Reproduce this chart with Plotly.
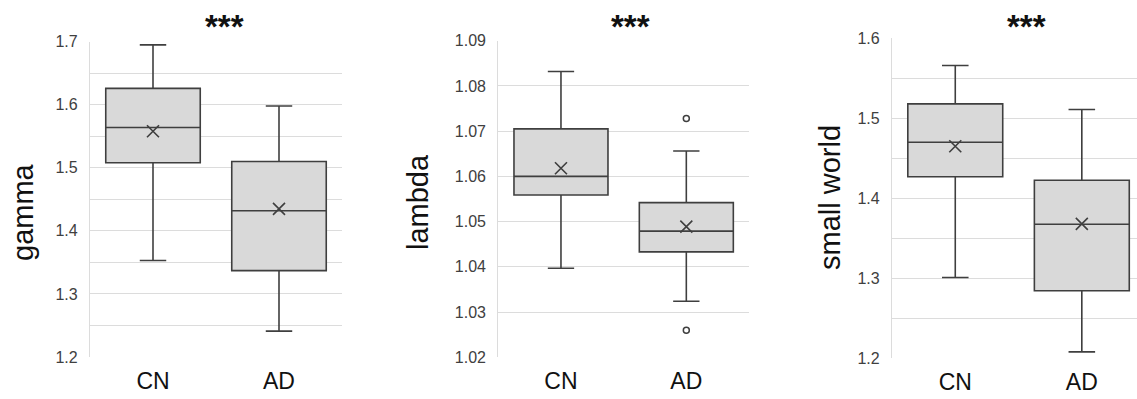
import plotly.graph_objects as go

W, H = 1137, 399

groups = ["CN", "AD"]
positions = [0, 1]

gamma_q1 = [1.508, 1.337]
gamma_median = [1.564, 1.432]
gamma_q3 = [1.626, 1.510]
gamma_lower = [1.353, 1.241]
gamma_upper = [1.695, 1.598]
gamma_mean = [1.558, 1.435]
gamma_outliers = [[], []]

lambda_q1 = [1.0559, 1.0433]
lambda_median = [1.0600, 1.0479]
lambda_q3 = [1.0705, 1.0542]
lambda_lower = [1.0397, 1.0324]
lambda_upper = [1.0832, 1.0656]
lambda_mean = [1.0618, 1.0489]
lambda_outliers = [[], [1.0728, 1.0260]]

sw_q1 = [1.427, 1.2845]
sw_median = [1.470, 1.3675]
sw_q3 = [1.518, 1.4225]
sw_lower = [1.301, 1.208]
sw_upper = [1.566, 1.511]
sw_mean = [1.465, 1.368]
sw_outliers = [[], []]

significance = ["***", "***", "***"]

panels = [
    dict(name="gamma", q1=gamma_q1, med=gamma_median, q3=gamma_q3, lo=gamma_lower,
         hi=gamma_upper, mean=gamma_mean, out=gamma_outliers,
         yrange=[1.2, 1.7], dtick=0.1, minor=0.05, fmt=".1f",
         px=(90, 342), py=(41.7, 357), xr=[-0.5, 1.5], tx=23, ty=212, sx=225),
    dict(name="lambda", q1=lambda_q1, med=lambda_median, q3=lambda_q3, lo=lambda_lower,
         hi=lambda_upper, mean=lambda_mean, out=lambda_outliers,
         yrange=[1.02, 1.09], dtick=0.01, minor=None, fmt=".2f",
         px=(498.3, 749), py=(40.7, 357.3), xr=[-0.5, 1.5], tx=418, ty=202, sx=630),
    dict(name="small world", q1=sw_q1, med=sw_median, q3=sw_q3, lo=sw_lower,
         hi=sw_upper, mean=sw_mean, out=sw_outliers,
         yrange=[1.2, 1.6], dtick=0.1, minor=0.05, fmt=".1f",
         px=(892, 1137), py=(38.3, 358.3), xr=[-0.5, 1.436], tx=830, ty=198, sx=1026),
]

FONT = "Liberation Sans, Arial, sans-serif"
BOXLINE = "#3f3f3f"
FILL = "#d9d9d9"
GRID = "#dcdcdc"

fig = go.Figure()
annotations = []
layout = {}

for i, p in enumerate(panels):
    k = "" if i == 0 else str(i + 1)
    xa, ya = "x" + k, "y" + k
    fig.add_trace(go.Box(
        x=positions, q1=p["q1"], median=p["med"], q3=p["q3"],
        lowerfence=p["lo"], upperfence=p["hi"],
        width=0.75, whiskerwidth=0.28, boxpoints=False,
        fillcolor=FILL, line=dict(color=BOXLINE, width=1.6),
        xaxis=xa, yaxis=ya, showlegend=False, hoverinfo="skip"))
    fig.add_trace(go.Scatter(
        x=positions, y=p["mean"], mode="markers",
        marker=dict(symbol="x-thin", size=12, color=BOXLINE,
                    line=dict(color=BOXLINE, width=1.6)),
        xaxis=xa, yaxis=ya, showlegend=False, hoverinfo="skip"))
    ox, oy = [], []
    for pos, vals in zip(positions, p["out"]):
        for v in vals:
            ox.append(pos)
            oy.append(v)
    if ox:
        fig.add_trace(go.Scatter(
            x=ox, y=oy, mode="markers",
            marker=dict(symbol="circle-open", size=6, color=BOXLINE,
                        line=dict(color=BOXLINE, width=1.5)),
            xaxis=xa, yaxis=ya, showlegend=False, hoverinfo="skip"))

    x0, x1 = p["px"]
    yt, yb = p["py"]
    layout["xaxis" + k] = dict(
        domain=[x0 / W, x1 / W], range=p["xr"], tickvals=positions, ticktext=groups,
        showgrid=False, zeroline=False, showline=False, ticks="",
        tickfont=dict(family=FONT, size=23, color="#111111"),
        ticklabelstandoff=8, anchor=ya, fixedrange=True, automargin=False)
    ydict = dict(
        domain=[1 - yb / H, 1 - yt / H], range=p["yrange"], dtick=p["dtick"],
        tick0=p["yrange"][0], tickformat=p["fmt"],
        showgrid=True, gridcolor=GRID, gridwidth=1.2, zeroline=False,
        showline=True, linecolor=GRID, linewidth=1.2, ticks="",
        tickfont=dict(family=FONT, size=16, color="#404040"),
        ticklabelstandoff=8, anchor=xa, fixedrange=True, automargin=False)
    if p["minor"]:
        ydict["minor"] = dict(dtick=p["minor"], tick0=p["yrange"][0], showgrid=True,
                              gridcolor=GRID, gridwidth=1.2, ticks="")
    layout["yaxis" + k] = ydict

    annotations.append(dict(
        text=p["name"], x=p["tx"] / W, y=1 - p["ty"] / H, xref="paper", yref="paper",
        xanchor="center", yanchor="middle", textangle=-90, showarrow=False,
        font=dict(family=FONT, size=29, color="#111111")))
    annotations.append(dict(
        text="<b>" + significance[i] + "</b>", x=p["sx"] / W, y=1 - 26 / H,
        xref="paper", yref="paper",
        xanchor="center", yanchor="middle", showarrow=False,
        font=dict(family=FONT, size=33, color="#111111")))

fig.update_layout(
    width=W, height=H, margin=dict(l=0, r=0, t=0, b=0, pad=0, autoexpand=False),
    paper_bgcolor="white", plot_bgcolor="white",
    annotations=annotations, **layout)

fig.write_html("out.html", config={"displayModeBar": False},
               post_script="document.body.style.margin='0';")
